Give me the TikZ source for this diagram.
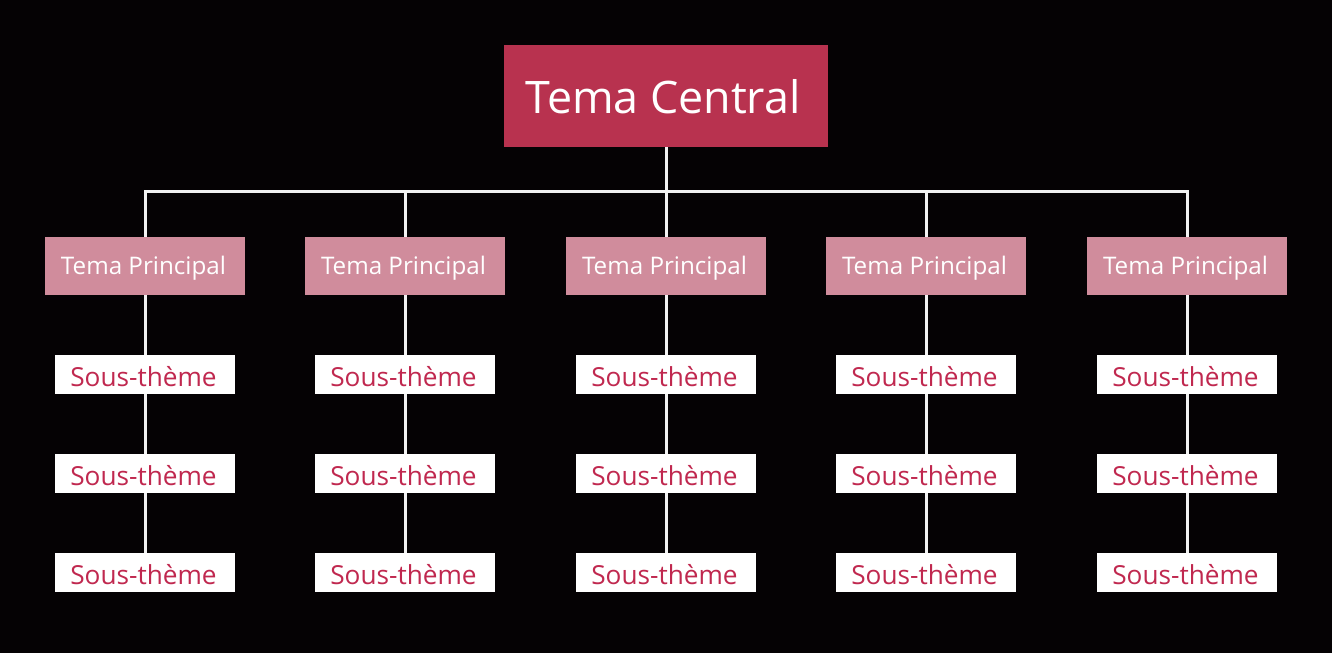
\documentclass[tikz,border=0pt]{standalone}
\usepackage{fontspec}
\setmainfont{Open Sans}
\definecolor{bgc}{HTML}{050204}
\definecolor{centralc}{HTML}{B8324F}
\definecolor{princc}{HTML}{D08C9C}
\definecolor{subtxt}{HTML}{C0284F}
\definecolor{linec}{HTML}{F2F2F2}
\pgfdeclarelayer{bg}
\pgfdeclarelayer{lines}
\pgfsetlayers{bg,lines,main}
\newcommand{\lowered}[1]{\hspace*{-3pt}\raisebox{-2.5pt}[\height][\depth]{#1}}
\begin{document}
\begin{tikzpicture}[x=1pt,y=-1pt,
  central/.style={fill=centralc,text=white,minimum width=324pt,minimum height=102pt,inner sep=0pt,font=\fontsize{44.8}{50}\selectfont},
  princ/.style={fill=princc,text=white,minimum width=200pt,minimum height=58pt,inner sep=0pt,font=\fontsize{24.2}{28}\selectfont},
  subbox/.style={fill=white,text=subtxt,minimum width=180pt,minimum height=39pt,inner sep=0pt,font=\fontsize{26.2}{30}\selectfont},
  conn/.style={draw=linec,line width=3pt}]
\begin{pgfonlayer}{bg}
\fill[bgc] (0,0) rectangle (1332,653);
\end{pgfonlayer}
\useasboundingbox (0,0) rectangle (1332,653);
\node[central] (c) at (666,96) {\hspace*{-6pt}\raisebox{-1pt}[\height][\depth]{Tema Central}};
\coordinate (hub) at (666,191);
\foreach \i/\x in {1/145,2/405,3/666,4/926,5/1187}{
  \node[princ] (p\i) at (\x,266) {\lowered{Tema Principal}};
  \node[subbox] (s\i a) at (\x,374.5) {\lowered{Sous-thème}};
  \node[subbox] (s\i b) at (\x,473.5) {\lowered{Sous-thème}};
  \node[subbox] (s\i c) at (\x,572.5) {\lowered{Sous-thème}};
}
\begin{pgfonlayer}{lines}
\draw[conn] (c.south) -- (hub);
\foreach \i in {1,...,5}{
  \draw[conn] (hub) -| (p\i.north);
  \draw[conn] (p\i.south) -- (s\i a.north);
  \draw[conn] (s\i a.south) -- (s\i b.north);
  \draw[conn] (s\i b.south) -- (s\i c.north);
}
\end{pgfonlayer}
\end{tikzpicture}
\end{document}
